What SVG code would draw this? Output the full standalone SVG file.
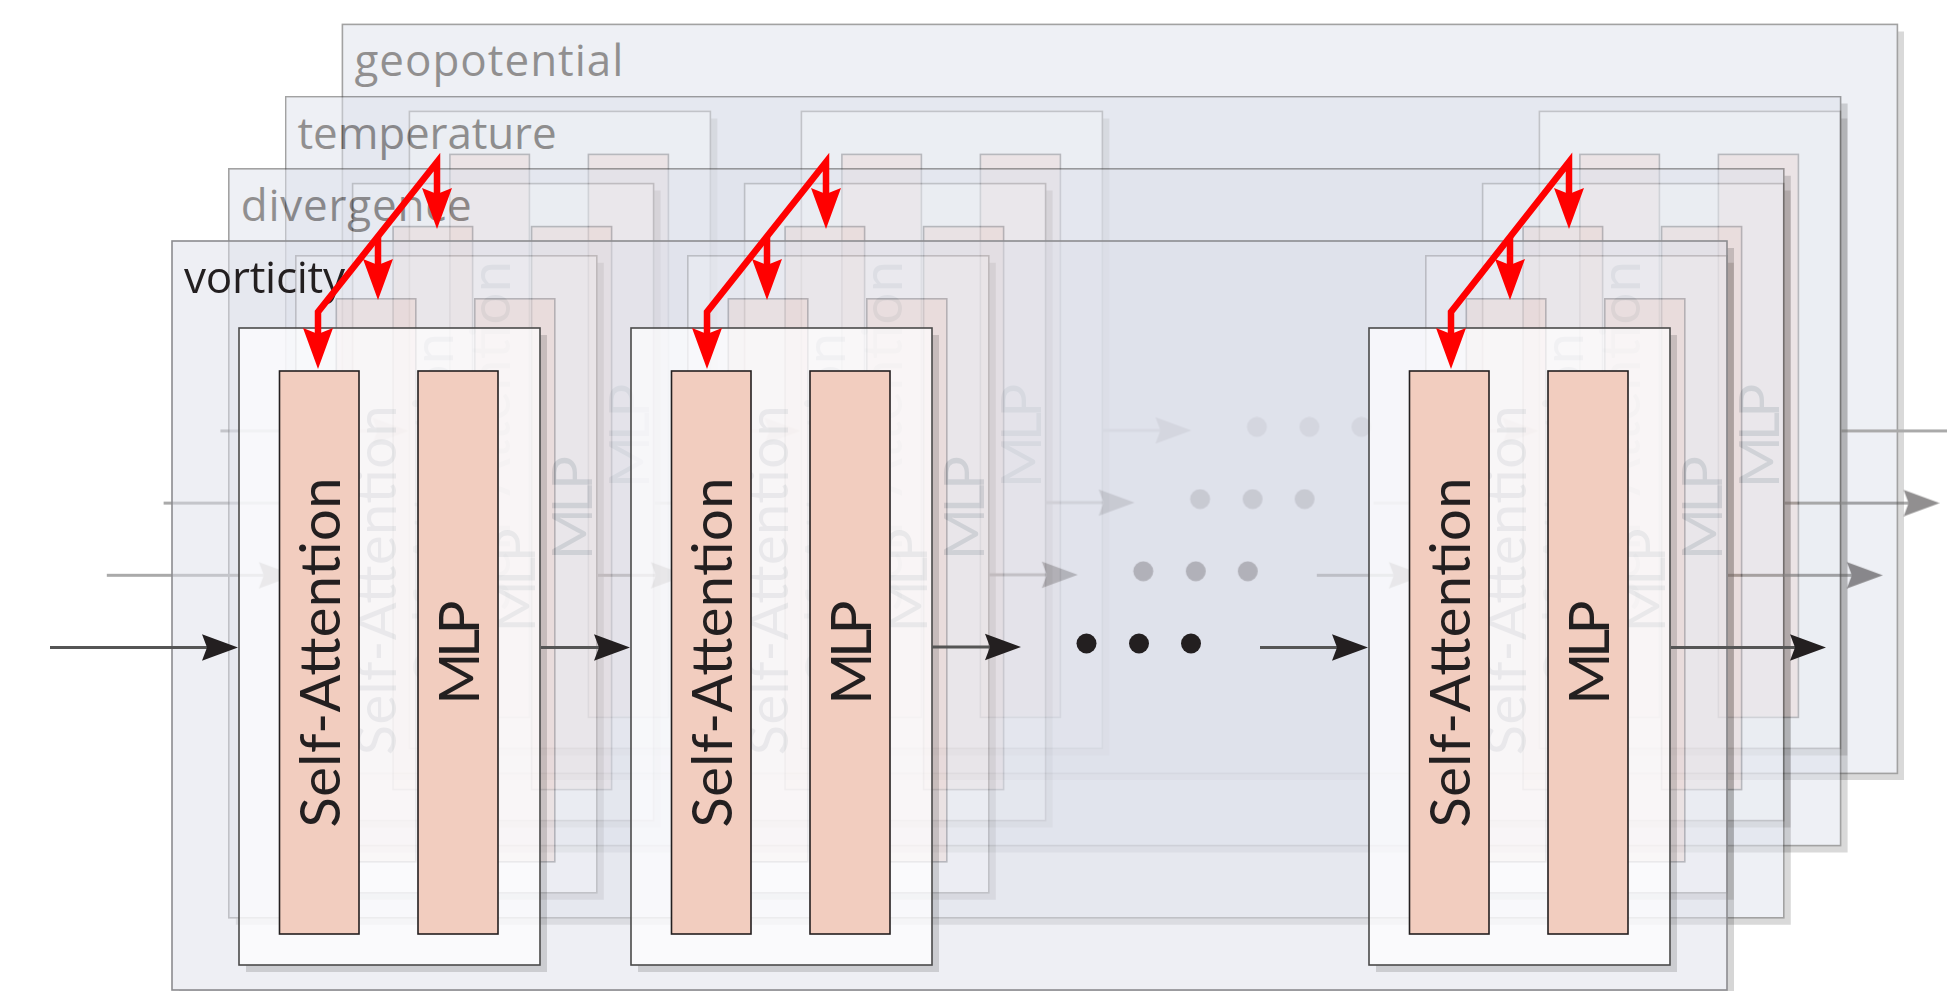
<svg xmlns="http://www.w3.org/2000/svg" width="1947" height="991" viewBox="0 0 1947 991">
<defs>
<style>
.panel{fill:#dde0ea;stroke:#444;stroke-width:1.6}
.front .panel{fill-opacity:.5;stroke:#8c8c90}
.pshadow{fill:#000;fill-opacity:.3}
.front .pshadow{fill-opacity:.16}
.bshadow{fill:#000;fill-opacity:.26}
.front .bshadow{fill-opacity:.14}
.block{fill:#fff;fill-opacity:.7;stroke:#4a4a4a;stroke-width:1.6}
.col{fill:#f2cdbf;stroke:#231f20;stroke-width:1.6}
.ct{font-family:Lato,"Liberation Sans",sans-serif;font-size:56px;fill:#231f20;text-anchor:middle}
.label{font-family:"Open Sans","Liberation Sans",sans-serif;font-size:44px;fill:#231f20}
.back{opacity:.5}
.flow{fill:none;stroke:#555;stroke-width:3;marker-end:url(#headK)}
.dot{fill:#231f20}
.red{fill:none;stroke:#f00;stroke-width:6.5;stroke-linejoin:miter}
</style>
<marker id="headK" markerUnits="userSpaceOnUse" viewBox="-6 -14 38 28" markerWidth="38" markerHeight="28" refX="0" refY="0" orient="auto">
<path d="M31,0 L-5,-13.2 L0,0 L-5,13.2 Z" fill="#231f20"/>
</marker>
<marker id="headR" markerUnits="userSpaceOnUse" viewBox="-7 -16 43 32" markerWidth="43" markerHeight="32" refX="0" refY="0" orient="auto-start-reverse">
<path d="M35,0 L-6,-15 L0,0 L-6,15 Z" fill="#f00"/>
</marker>
</defs>

<!-- geopotential layer (back) -->
<g id="layer-geopotential" class="back" transform="translate(170.4,-216.6)">
<path class="pshadow" d="M1727,248 H1734 V997 H179 V990 H1727 Z"/>
<rect class="panel" x="172" y="241" width="1555" height="749"/>
<text class="label" x="184" y="293" textLength="269">geopotential</text>
<g id="geopotential-block1">
<path class="bshadow" d="M540,335 H547 V972 H246 V965 H540 Z"/>
<rect class="block" x="239" y="328" width="301" height="637"/>
<rect class="col" x="279.5" y="371" width="79.5" height="563"/>
<rect class="col" x="418" y="371" width="80" height="563"/>
<text class="ct" transform="translate(339.5,652.5) rotate(-90)" textLength="350">Self-Attention</text>
<text class="ct" transform="translate(478.5,652.5) rotate(-90)" textLength="104">MLP</text>
</g>
<g id="geopotential-block2">
<path class="bshadow" d="M932,335 H939 V972 H638 V965 H932 Z"/>
<rect class="block" x="631" y="328" width="301" height="637"/>
<rect class="col" x="671.5" y="371" width="79.5" height="563"/>
<rect class="col" x="810" y="371" width="80" height="563"/>
<text class="ct" transform="translate(731.5,652.5) rotate(-90)" textLength="350">Self-Attention</text>
<text class="ct" transform="translate(870.5,652.5) rotate(-90)" textLength="104">MLP</text>
</g>
<g id="geopotential-block3">
<path class="bshadow" d="M1670,335 H1677 V972 H1376 V965 H1670 Z"/>
<rect class="block" x="1369" y="328" width="301" height="637"/>
<rect class="col" x="1409.5" y="371" width="79.5" height="563"/>
<rect class="col" x="1548" y="371" width="80" height="563"/>
<text class="ct" transform="translate(1469.5,652.5) rotate(-90)" textLength="350">Self-Attention</text>
<text class="ct" transform="translate(1608.5,652.5) rotate(-90)" textLength="104">MLP</text>
</g>
<g id="geopotential-connectors">
<path class="flow" d="M50,647.5 H207"/>
<path class="flow" d="M541,647.5 H599"/>
<path class="flow" d="M932,647 H990"/>
<path class="flow" d="M1260,647.5 H1337"/>
<path class="flow" d="M1671,647.5 H1795"/>
<circle class="dot" cx="1086.5" cy="643.5" r="10"/>
<circle class="dot" cx="1139" cy="643.5" r="10"/>
<circle class="dot" cx="1191" cy="643.5" r="10"/>
</g>
</g>

<!-- temperature layer -->
<g id="layer-temperature" class="back" transform="translate(113.6,-144.4)">
<path class="pshadow" d="M1727,248 H1734 V997 H179 V990 H1727 Z"/>
<rect class="panel" x="172" y="241" width="1555" height="749"/>
<text class="label" x="184" y="293" textLength="259">temperature</text>
<g id="temperature-block1">
<path class="bshadow" d="M540,335 H547 V972 H246 V965 H540 Z"/>
<rect class="block" x="239" y="328" width="301" height="637"/>
<rect class="col" x="279.5" y="371" width="79.5" height="563"/>
<rect class="col" x="418" y="371" width="80" height="563"/>
<text class="ct" transform="translate(339.5,652.5) rotate(-90)" textLength="350">Self-Attention</text>
<text class="ct" transform="translate(478.5,652.5) rotate(-90)" textLength="104">MLP</text>
</g>
<g id="temperature-block2">
<path class="bshadow" d="M932,335 H939 V972 H638 V965 H932 Z"/>
<rect class="block" x="631" y="328" width="301" height="637"/>
<rect class="col" x="671.5" y="371" width="79.5" height="563"/>
<rect class="col" x="810" y="371" width="80" height="563"/>
<text class="ct" transform="translate(731.5,652.5) rotate(-90)" textLength="350">Self-Attention</text>
<text class="ct" transform="translate(870.5,652.5) rotate(-90)" textLength="104">MLP</text>
</g>
<g id="temperature-block3">
<path class="bshadow" d="M1670,335 H1677 V972 H1376 V965 H1670 Z"/>
<rect class="block" x="1369" y="328" width="301" height="637"/>
<rect class="col" x="1409.5" y="371" width="79.5" height="563"/>
<rect class="col" x="1548" y="371" width="80" height="563"/>
<text class="ct" transform="translate(1469.5,652.5) rotate(-90)" textLength="350">Self-Attention</text>
<text class="ct" transform="translate(1608.5,652.5) rotate(-90)" textLength="104">MLP</text>
</g>
<g id="temperature-connectors">
<path class="flow" d="M50,647.5 H207"/>
<path class="flow" d="M541,647.5 H599"/>
<path class="flow" d="M932,647 H990"/>
<path class="flow" d="M1260,647.5 H1337"/>
<path class="flow" d="M1671,647.5 H1795"/>
<circle class="dot" cx="1086.5" cy="643.5" r="10"/>
<circle class="dot" cx="1139" cy="643.5" r="10"/>
<circle class="dot" cx="1191" cy="643.5" r="10"/>
</g>
</g>

<!-- divergence layer -->
<g id="layer-divergence" class="back" transform="translate(56.8,-72.2)">
<path class="pshadow" d="M1727,248 H1734 V997 H179 V990 H1727 Z"/>
<rect class="panel" x="172" y="241" width="1555" height="749"/>
<text class="label" x="184" y="293" textLength="231">divergence</text>
<g id="divergence-block1">
<path class="bshadow" d="M540,335 H547 V972 H246 V965 H540 Z"/>
<rect class="block" x="239" y="328" width="301" height="637"/>
<rect class="col" x="279.5" y="371" width="79.5" height="563"/>
<rect class="col" x="418" y="371" width="80" height="563"/>
<text class="ct" transform="translate(339.5,652.5) rotate(-90)" textLength="350">Self-Attention</text>
<text class="ct" transform="translate(478.5,652.5) rotate(-90)" textLength="104">MLP</text>
</g>
<g id="divergence-block2">
<path class="bshadow" d="M932,335 H939 V972 H638 V965 H932 Z"/>
<rect class="block" x="631" y="328" width="301" height="637"/>
<rect class="col" x="671.5" y="371" width="79.5" height="563"/>
<rect class="col" x="810" y="371" width="80" height="563"/>
<text class="ct" transform="translate(731.5,652.5) rotate(-90)" textLength="350">Self-Attention</text>
<text class="ct" transform="translate(870.5,652.5) rotate(-90)" textLength="104">MLP</text>
</g>
<g id="divergence-block3">
<path class="bshadow" d="M1670,335 H1677 V972 H1376 V965 H1670 Z"/>
<rect class="block" x="1369" y="328" width="301" height="637"/>
<rect class="col" x="1409.5" y="371" width="79.5" height="563"/>
<rect class="col" x="1548" y="371" width="80" height="563"/>
<text class="ct" transform="translate(1469.5,652.5) rotate(-90)" textLength="350">Self-Attention</text>
<text class="ct" transform="translate(1608.5,652.5) rotate(-90)" textLength="104">MLP</text>
</g>
<g id="divergence-connectors">
<path class="flow" d="M50,647.5 H207"/>
<path class="flow" d="M541,647.5 H599"/>
<path class="flow" d="M932,647 H990"/>
<path class="flow" d="M1260,647.5 H1337"/>
<path class="flow" d="M1671,647.5 H1795"/>
<circle class="dot" cx="1086.5" cy="643.5" r="10"/>
<circle class="dot" cx="1139" cy="643.5" r="10"/>
<circle class="dot" cx="1191" cy="643.5" r="10"/>
</g>
</g>

<!-- vorticity layer (front) -->
<g id="layer-vorticity" class="front">
<path class="pshadow" d="M1727,248 H1734 V997 H179 V990 H1727 Z"/>
<rect class="panel" x="172" y="241" width="1555" height="749"/>
<text class="label" x="184" y="293" textLength="161">vorticity</text>
<g id="vorticity-block1">
<path class="bshadow" d="M540,335 H547 V972 H246 V965 H540 Z"/>
<rect class="block" x="239" y="328" width="301" height="637"/>
<rect class="col" x="279.5" y="371" width="79.5" height="563"/>
<rect class="col" x="418" y="371" width="80" height="563"/>
<text class="ct" transform="translate(339.5,652.5) rotate(-90)" textLength="350">Self-Attention</text>
<text class="ct" transform="translate(478.5,652.5) rotate(-90)" textLength="104">MLP</text>
</g>
<g id="vorticity-block2">
<path class="bshadow" d="M932,335 H939 V972 H638 V965 H932 Z"/>
<rect class="block" x="631" y="328" width="301" height="637"/>
<rect class="col" x="671.5" y="371" width="79.5" height="563"/>
<rect class="col" x="810" y="371" width="80" height="563"/>
<text class="ct" transform="translate(731.5,652.5) rotate(-90)" textLength="350">Self-Attention</text>
<text class="ct" transform="translate(870.5,652.5) rotate(-90)" textLength="104">MLP</text>
</g>
<g id="vorticity-block3">
<path class="bshadow" d="M1670,335 H1677 V972 H1376 V965 H1670 Z"/>
<rect class="block" x="1369" y="328" width="301" height="637"/>
<rect class="col" x="1409.5" y="371" width="79.5" height="563"/>
<rect class="col" x="1548" y="371" width="80" height="563"/>
<text class="ct" transform="translate(1469.5,652.5) rotate(-90)" textLength="350">Self-Attention</text>
<text class="ct" transform="translate(1608.5,652.5) rotate(-90)" textLength="104">MLP</text>
</g>
<g id="vorticity-connectors">
<path class="flow" d="M50,647.5 H207"/>
<path class="flow" d="M541,647.5 H599"/>
<path class="flow" d="M932,647 H990"/>
<path class="flow" d="M1260,647.5 H1337"/>
<path class="flow" d="M1671,647.5 H1795"/>
<circle class="dot" cx="1086.5" cy="643.5" r="10"/>
<circle class="dot" cx="1139" cy="643.5" r="10"/>
<circle class="dot" cx="1191" cy="643.5" r="10"/>
</g>
</g>

<!-- cross-variable attention links -->
<g id="attention-links">
<path class="red" d="M437,194 V162 L318,312 V334" marker-start="url(#headR)" marker-end="url(#headR)"/>
<path class="red" d="M378,236.5 V265" marker-end="url(#headR)"/>
<path class="red" d="M826,194 V162 L707,312 V334" marker-start="url(#headR)" marker-end="url(#headR)"/>
<path class="red" d="M767,236.5 V265" marker-end="url(#headR)"/>
<path class="red" d="M1569,194 V162 L1451,312 V334" marker-start="url(#headR)" marker-end="url(#headR)"/>
<path class="red" d="M1510,237 V265" marker-end="url(#headR)"/>
</g>
</svg>
